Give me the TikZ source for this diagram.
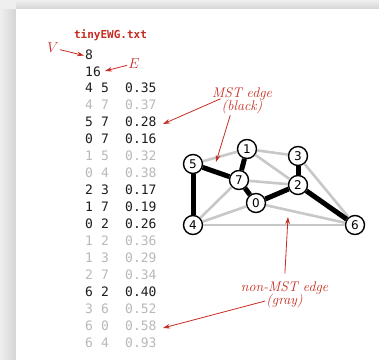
\documentclass[tikz,border=0pt]{standalone}
\usepackage{fontspec}
\setmonofont{DejaVu Sans Mono}
\setsansfont{DejaVu Sans}
\usetikzlibrary{arrows.meta}

\definecolor{notered}{RGB}{198,44,34}
\definecolor{panelgray}{RGB}{239,239,239}
\definecolor{shadowgray}{RGB}{212,212,212}
\definecolor{edgegray}{RGB}{200,200,200}
\definecolor{listgray}{RGB}{185,185,185}
\definecolor{listblack}{RGB}{30,30,30}

\begin{document}
\begin{tikzpicture}[x=1pt,y=1pt,yscale=-1,xscale=1,
  vtx/.style={circle,draw=black,line width=1.4pt,fill=white,minimum size=19pt,inner sep=0pt,font=\sffamily\fontsize{12}{12}\selectfont},
  mst/.style={line width=5pt,black},
  nonmst/.style={line width=2.6pt,edgegray},
  lst/.style={anchor=base west,inner sep=0pt,font=\ttfamily\fontsize{13}{13}\selectfont},
  note/.style={text=notered,font=\itshape\fontsize{14}{14}\selectfont,inner sep=1pt},
  pointer/.style={notered,line width=0.8pt,-{Stealth[length=7pt,width=4.6pt]}}]

%Shape: page and shadow
\fill [panelgray] (0,0) rectangle (379,359);
\shade [top color=panelgray,bottom color=shadowgray] (16,0) rectangle (379,9);
\shade [left color=panelgray,right color=shadowgray] (0,9) rectangle (16,359);
\fill [white] (16,9) rectangle (379,359);

% Text Node: file name
\node [anchor=base,inner sep=0pt,text=notered,font=\ttfamily\bfseries\fontsize{11}{11}\selectfont] (fname) at (110.5,38.5) {tinyEWG.txt};

% Text Node: V and E
\node [lst,text=listblack] (nv) at (85,59) {8};
\node [lst,text=listblack] (ne) at (85,76) {16};

%Edge list
\foreach \a/\b/\w/\c [count=\i] in {4/5/0.35/listblack,4/7/0.37/listgray,5/7/0.28/listblack,0/7/0.16/listblack,
  1/5/0.32/listgray,0/4/0.38/listgray,2/3/0.17/listblack,1/7/0.19/listblack,0/2/0.26/listblack,
  1/2/0.36/listgray,1/3/0.29/listgray,2/7/0.34/listgray,6/2/0.40/listblack,3/6/0.52/listgray,
  6/0/0.58/listgray,6/4/0.93/listgray}{
  \node [lst,text=\c] (la\i) at (85,{59+16.95*(\i+1)}) {\a};
  \node [lst,text=\c] (lb\i) at (101,{59+16.95*(\i+1)}) {\b};
  \node [lst,text=\c] (lw\i) at (125,{59+16.95*(\i+1)}) {\w};
}

%Graph vertices
\node [vtx] (v0) at (256,203) {0};
\node [vtx] (v1) at (247,149) {1};
\node [vtx] (v2) at (298,185) {2};
\node [vtx] (v3) at (298,156) {3};
\node [vtx] (v4) at (193,225) {4};
\node [vtx] (v5) at (193,164) {5};
\node [vtx] (v6) at (355,225) {6};
\node [vtx] (v7) at (239,180) {7};

%Graph edges
\foreach \p/\q in {4/7,1/5,0/4,1/2,1/3,2/7,3/6,6/0,6/4}
  \draw [nonmst] (v\p) -- (v\q);
\foreach \p/\q in {4/5,5/7,0/7,2/3,1/7,0/2,6/2}
  \draw [mst] (v\p) -- (v\q);

% Text Node: labels
\node [note,font=\itshape\fontsize{14.5}{14.5}\selectfont] (vlbl) at (53,48) {$V$};
\node [note,font=\itshape\fontsize{14.5}{14.5}\selectfont] (elbl) at (134,63.5) {$E$};
\node [note] (mst1) at (242,94) {MST edge};
\node [note] (mst2) at (242,107) {(black)};
\node [note] (nmst1) at (284.5,288) {non-MST edge};
\node [note] (nmst2) at (284.5,301) {(gray)};

\coordinate (tipv) at (84,55.5);
\coordinate (tipe) at (105,71);
\coordinate (tipl) at (163,124);
\coordinate (tipm) at (216,162);
\coordinate (tipg) at (288,217);
\coordinate (tipn) at (163,328);

%Pointers
\draw [pointer] (vlbl) -- (tipv);
\draw [pointer] (elbl) -- (tipe);
\draw [pointer] (mst2.north west) -- (tipl);
\draw [pointer] (mst2.215) -- (tipm);
\draw [pointer,shorten <=7pt] (nmst1.north) -- (tipg);
\draw [pointer] (nmst2.west) -- (tipn);

\end{tikzpicture}
\end{document}
